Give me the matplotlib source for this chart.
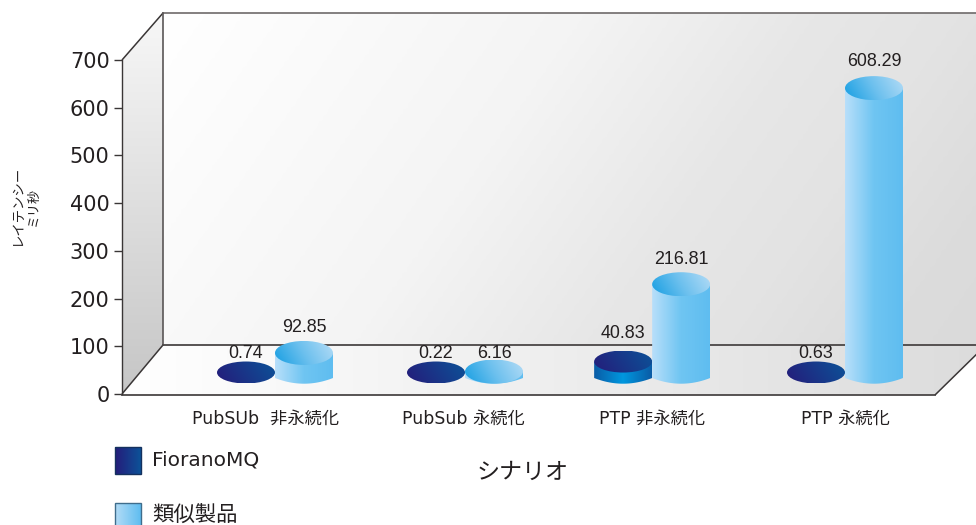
import numpy as np
import matplotlib
matplotlib.use("Agg")
import matplotlib.pyplot as plt
from matplotlib.colors import LinearSegmentedColormap
from matplotlib.patches import Ellipse, Polygon, Rectangle

categories = ["PubSUb  非永続化", "PubSub 永続化", "PTP 非永続化", "PTP 永続化"]
category_pos = [0.0, 1.0, 1.985, 3.0]
series_names = ["FioranoMQ", "類似製品"]
fiorano_labels = ["0.74", "0.22", "40.83", "0.63"]
similar_labels = ["92.85", "6.16", "216.81", "608.29"]
# heights of the drawn cylinders, read against the axis scale
fiorano_heights = [0, 0, 23, 0]
similar_heights = [41, 2, 185, 596]
yticks = [0, 100, 200, 300, 400, 500, 600, 700]

W, H = 976, 525
PX_V = 334 / 700          # pixels per value unit
PX_C = 190                # pixels per category
Y0_PX = 394
X0_PX = 275
JP = ["Noto Sans CJK JP", "DejaVu Sans"]
MIX = ["DejaVu Sans", "Noto Sans CJK JP"]
TXT = "#231f20"


def xd(px):
    return (px - X0_PX) / PX_C


def yd(py):
    return (Y0_PX - py) / PX_V


fig = plt.figure(figsize=(W / 100, H / 100), dpi=100)
ax = fig.add_axes([0, 0, 1, 1])
ax.set_facecolor("none")


def grad(patch, cols, wx=1.0, wy=0.0, z=1):
    """fill patch with a linear gradient; wx, wy weigh the box's x and upward y"""
    patch.set_facecolor("none")
    patch.set_edgecolor("none")
    ax.add_patch(patch)
    bb = patch.get_path().transformed(patch.get_patch_transform()).get_extents()
    n = 160
    u, v = np.meshgrid(np.linspace(0, 1, n), np.linspace(0, 1, n))
    g = wx * u + wy * v
    g = (g - g.min()) / (g.max() - g.min())
    im = ax.imshow(g, cmap=LinearSegmentedColormap.from_list("g", cols),
                   extent=(bb.x0, bb.x1, bb.y0, bb.y1), origin="lower",
                   aspect="auto", zorder=z, vmin=0, vmax=1, interpolation="bilinear")
    im.set_clip_path(patch)


# ---- box -------------------------------------------------------------
FL, BL, FR, BR = 122, 163, 935, 986
wall_back = Polygon([(xd(BL), yd(13)), (xd(BR), yd(13)), (xd(BR), yd(345)), (xd(BL), yd(345))])
grad(wall_back, [(0, "#ffffff"), (0.40, "#f4f4f4"), (0.62, "#e7e7e7"), (0.76, "#e3e3e3"),
                 (0.90, "#dcdcdc"), (1, "#dadada")], wx=823, wy=-232, z=1)
wall_left = Polygon([(xd(FL), yd(60)), (xd(BL), yd(13)), (xd(BL), yd(345)), (xd(FL), yd(394))])
grad(wall_left, ["#c6c6c6", "#f7f7f7"], wx=0, wy=1, z=1)
floor = Polygon([(xd(FL), yd(395)), (xd(BL), yd(345)), (xd(BR), yd(345)), (xd(FR), yd(395))])
grad(floor, [(0, "#ffffff"), (0.5, "#eeeeee"), (1, "#dcdcdc")], z=1)
edge = dict(color="#3a3636", lw=1.1, zorder=2, solid_capstyle="butt")
ax.plot([xd(FL), xd(BL)], [yd(60), yd(13)], **edge)
ax.plot([xd(BL), xd(BR)], [yd(13), yd(13)], color="#6e6a6a", lw=1.2, zorder=2)
ax.plot([xd(BL), xd(BL)], [yd(13), yd(345)], color="#5a5656", lw=1.2, zorder=2)
ax.plot([xd(FL), xd(BL)], [yd(394), yd(345)], **edge)
ax.plot([xd(BL), xd(BR)], [yd(345), yd(345)], color="#4a4646", lw=1.3, zorder=2)
ax.plot([xd(FL), xd(FR)], [yd(395), yd(395)], color="#4a4646", lw=1.3, zorder=2)
ax.plot([xd(FR), xd(BR)], [yd(395), yd(345)], **edge)

# ---- cylinders -------------------------------------------------------
BW = 58 / PX_C
BASE = yd(372.5)
CORNER = yd(378)
BOTTOM = yd(383.7)
DARK_TOP = ["#251c7a", "#0c5298"]
DARK_SIDE = ["#0a5ca6", "#0098df", "#0a5ca6"]
LIGHT_TOP = ["#169ee2", "#6cc0ee", "#b4dcf6"]
LIGHT_SIDE = [(0, "#b8dffa"), (0.5, "#6fc5f2"), (1, "#5fbdf0")]


def cylinder(cx, h, top, side, eh, z):
    y_top = BASE + h
    if h > 0:
        s = np.linspace(-1, 1, 40)
        xs = np.r_[cx - BW / 2, cx + s * BW / 2, cx + BW / 2]
        ys = np.r_[y_top, CORNER + (BOTTOM - CORNER) * (1 - s ** 2), y_top]
        grad(Polygon(np.c_[xs, ys]), side, z=z)
    grad(Ellipse((cx, y_top), BW, eh / PX_V), top, wx=1, wy=0.25, z=z + 0.1)


for c, fh, sh in zip(category_pos, fiorano_heights, similar_heights):
    cylinder(c - BW / 2, fh, DARK_TOP, DARK_SIDE, 22, 3)
    cylinder(c + BW / 2, sh, LIGHT_TOP, LIGHT_SIDE, 24, 3.5)

# ---- value labels ----------------------------------------------------
lab = dict(ha="center", va="center", family="Liberation Sans", fontsize=12.9, color=TXT, zorder=6)
fio_lab_y = [353, 353, 334, 353]
sim_lab_y = [328, 353, 260, 61]
for c, a, b, ya, yb in zip(category_pos, fiorano_labels, similar_labels, fio_lab_y, sim_lab_y):
    ax.text(c - BW / 2, yd(ya), a, **lab)
    ax.text(c + BW / 2, yd(yb), b, **lab)

# ---- axes ------------------------------------------------------------
for s in ["top", "right", "bottom"]:
    ax.spines[s].set_visible(False)
ax.spines["left"].set_position(("data", xd(FL)))
ax.spines["left"].set_bounds(0, 700)
ax.spines["left"].set_color("#3a3636")
ax.spines["left"].set_linewidth(1.0)
ax.spines["left"].set_zorder(5)
ax.set_xticks([])
ax.set_yticks(yticks)
ax.tick_params(axis="y", length=6, width=1.0, color="#3a3636", labelcolor=TXT, labelsize=15, pad=3)

cat_px = [266, 463, 652, 845]
for p, t in zip(cat_px, categories):
    ax.text(xd(p), yd(419), t, ha="center", va="center", family=MIX, fontsize=12.4, color=TXT)

ax.text(xd(523), yd(472), "シナリオ", ha="center", va="center", family=JP, fontsize=16.6, color=TXT)
ax.text(xd(17), yd(206), "レイテンシー", rotation=90, ha="center", va="center", family=JP, fontsize=9.6, color=TXT)
ax.text(xd(33), yd(206), "ミリ秒", rotation=90, ha="center", va="center", family=JP, fontsize=9.4, color=TXT)

# ---- legend ----------------------------------------------------------
legend_y = [447, 503]
legend_text_y = [460, 516]
legend_sizes = [14.5, 15.4]
legend_cols = [DARK_TOP, ["#b4dcf6", "#5fbdf0"]]
legend_edges = ["#14315e", "#3f6d8c"]
for name, py, ty, fs, cols, ec in zip(series_names, legend_y, legend_text_y, legend_sizes, legend_cols, legend_edges):
    grad(Rectangle((xd(115), yd(py + 27)), 26 / PX_C, 27 / PX_V), cols, z=3)
    ax.add_patch(Rectangle((xd(115), yd(py + 27)), 26 / PX_C, 27 / PX_V, fc="none", ec=ec, lw=1.0, zorder=4))
    ax.text(xd(152), yd(ty), name, ha="left", va="center", family=MIX, fontsize=fs, color=TXT)

ax.set_xlim(xd(0), xd(W))
ax.set_ylim(yd(H), yd(0))
fig.savefig("out.png", dpi=100)
